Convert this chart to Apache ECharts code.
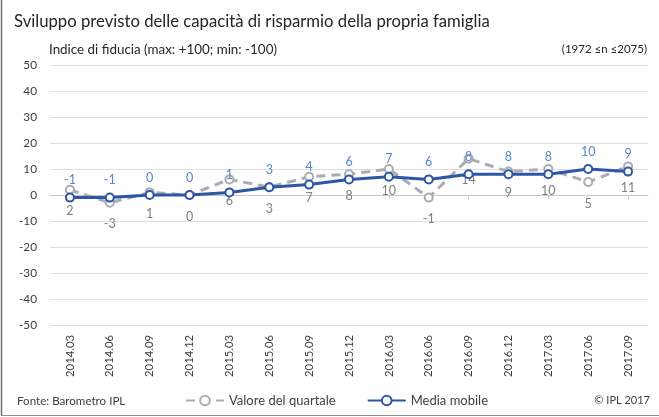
<!DOCTYPE html>
<html>
<head>
<meta charset="utf-8">
<script src="https://cdn.jsdelivr.net/npm/echarts@6/dist/echarts.min.js"></script>
<style>
  html, body { margin: 0; padding: 0; background: #fff; }
  #chart { width: 659px; height: 417px; }
</style>
</head>
<body>
<div id="chart"></div>
<script>
const quarters = ['2014.03', '2014.06', '2014.09', '2014.12', '2015.03', '2015.06', '2015.09', '2015.12',
  '2016.03', '2016.06', '2016.09', '2016.12', '2017.03', '2017.06', '2017.09'];
// valore del quartale (grigio tratteggiato)
const quarterValues = [2, -3, 1, 0, 6, 3, 7, 8, 10, -1, 14, 9, 10, 5, 11];
// media mobile (blu)
const movingAvg = [-1, -1, 0, 0, 1, 3, 4, 6, 7, 6, 8, 8, 8, 10, 9];

const FONT = 'Lato';
const chart = echarts.init(document.getElementById('chart'), null, { renderer: 'canvas' });

const option = {
  backgroundColor: '#fff',
  textStyle: { fontFamily: FONT },
  title: [
    {
      text: 'Sviluppo previsto delle capacità di risparmio della propria famiglia',
      left: 9, top: 8,
      textStyle: { fontFamily: FONT, fontSize: 16.7, fontWeight: 'normal', color: '#262626' }
    },
    {
      text: 'Indice di fiducia (max: +100; min: -100)',
      left: 44, top: 38,
      textStyle: { fontFamily: FONT, fontSize: 13.4, fontWeight: 'normal', color: '#262626' }
    },
    {
      text: '(1972 ≤n ≤2075)',
      right: 7, top: 38,
      textStyle: { fontFamily: FONT, fontSize: 11.5, fontWeight: 'normal', color: '#262626' }
    },
    {
      text: 'Fonte: Barometro IPL',
      left: 12, top: 390,
      textStyle: { fontFamily: FONT, fontSize: 11.6, fontWeight: 'normal', color: '#404040' }
    },
    {
      text: '© IPL 2017',
      right: 4, top: 390,
      textStyle: { fontFamily: FONT, fontSize: 11, fontWeight: 'normal', color: '#404040' }
    }
  ],
  legend: {
    left: 180, top: 389,
    itemGap: 31,
    itemWidth: 38, itemHeight: 12,
    textStyle: { fontFamily: FONT, fontSize: 13, color: '#404040' },
    data: ['Valore del quartale', 'Media mobile']
  },
  grid: { left: 50, right: 11, top: 65, bottom: 92 },
  xAxis: [
    {
      type: 'category',
      data: quarters,
      boundaryGap: true,
      axisLine: { show: false, onZero: false },
      axisTick: { show: false },
      axisLabel: { rotate: 90, fontSize: 11.3, color: '#404040', margin: 10, fontFamily: FONT }
    },
    {
      type: 'category',
      data: quarters,
      boundaryGap: true,
      position: 'bottom',
      axisLine: { show: true, onZero: true, lineStyle: { color: '#c8c8c8', width: 1 } },
      axisTick: { show: true, alignWithLabel: true, length: 4, lineStyle: { color: '#c8c8c8' } },
      axisLabel: { show: false }
    }
  ],
  yAxis: {
    type: 'value',
    min: -50, max: 50, interval: 10,
    axisLine: { show: false },
    axisTick: { show: false },
    axisLabel: { fontSize: 11.8, color: '#404040', margin: 13, fontFamily: FONT },
    splitLine: { lineStyle: { color: '#dedede', width: 1 } }
  },
  series: [
    {
      name: 'Valore del quartale',
      type: 'line',
      data: quarterValues,
      symbol: 'emptyCircle',
      symbolSize: 8,
      z: 2,
      lineStyle: { color: '#a9adb2', width: 3, type: [9, 6] },
      itemStyle: { color: '#a9adb2', borderColor: '#a9adb2', borderWidth: 1.5 },
      label: { show: true, position: 'bottom', distance: 10, fontSize: 12.5, color: '#7f7f7f', fontFamily: FONT }
    },
    {
      name: 'Media mobile',
      type: 'line',
      data: movingAvg,
      symbol: 'emptyCircle',
      symbolSize: 8,
      z: 3,
      lineStyle: { color: '#2e56a6', width: 3 },
      itemStyle: { color: '#2e56a6', borderColor: '#2e56a6', borderWidth: 1.8 },
      label: { show: true, position: 'top', distance: 6, fontSize: 12.5, color: '#5b87cc', fontFamily: FONT }
    }
  ],
  graphic: [
    { type: 'line', shape: { x1: 1.5, y1: 0, x2: 1.5, y2: 415.5 }, style: { stroke: '#6f6f6f', lineWidth: 1.5 } },
    { type: 'line', shape: { x1: 1, y1: 415.5, x2: 659, y2: 415.5 }, style: { stroke: '#8f8f8f', lineWidth: 1 } }
  ]
};

chart.setOption(option);
</script>
</body>
</html>
